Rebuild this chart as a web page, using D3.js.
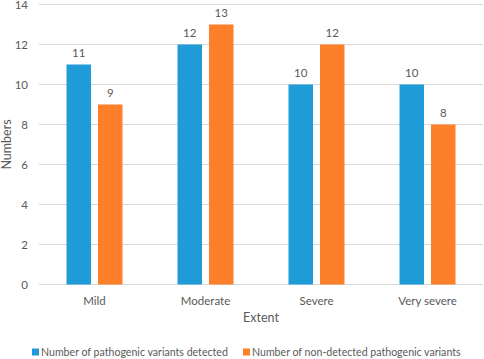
<!DOCTYPE html>
<html>
<head>
<meta charset="utf-8">
<script src="https://cdn.jsdelivr.net/npm/d3@7"></script>
<style>
  body { margin: 0; background: #fff; overflow: hidden; }
  svg { display: block; }
  text { font-family: Lato, "Liberation Sans", sans-serif; fill: #595959; }
</style>
</head>
<body>
<svg width="484" height="359"></svg>
<script>
const categories = ["Mild", "Moderate", "Severe", "Very severe"];
const seriesNames = ["Number of pathogenic variants detected", "Number of non-detected pathogenic variants"];
const detected = [11, 12, 10, 10];
const nonDetected = [9, 13, 12, 8];
const yTicks = [0, 2, 4, 6, 8, 10, 12, 14];
const colors = ["#1f9bd7", "#fe7f2a"];

const svg = d3.select("svg");
const margin = { top: 4.5, left: 39, right: 1 };
const innerWidth = 484 - margin.left - margin.right;
const innerHeight = 280;

const g = svg.append("g").attr("transform", `translate(${margin.left},${margin.top})`);

const x0 = d3.scaleBand().domain(categories).range([0, innerWidth]);
const bw = x0.bandwidth();
const x1 = d3.scaleBand().domain([0, 1]).range([bw / 2 - 28, bw / 2 + 28]).paddingInner(0.222);
const y = d3.scaleLinear().domain([0, 14]).range([innerHeight, 0]);

// grid
g.selectAll(".grid").data(yTicks).enter().append("line")
  .attr("x1", 0).attr("x2", innerWidth)
  .attr("y1", d => y(d)).attr("y2", d => y(d))
  .attr("stroke", "#d9d9d9").attr("stroke-width", 1);

// y tick labels
g.selectAll(".ytick").data(yTicks).enter().append("text")
  .attr("x", -11).attr("y", d => y(d)).attr("dy", "0.35em")
  .attr("text-anchor", "end").attr("font-size", 11.5)
  .text(d => d);

const rows = categories.map((c, i) => ({ c, vals: [detected[i], nonDetected[i]] }));

const grp = g.selectAll(".grp").data(rows).enter().append("g")
  .attr("transform", d => `translate(${x0(d.c)},0)`);

grp.selectAll("rect").data(d => d.vals).enter().append("rect")
  .attr("x", (d, i) => x1(i))
  .attr("y", d => y(d))
  .attr("width", x1.bandwidth())
  .attr("height", d => innerHeight - y(d))
  .attr("fill", (d, i) => colors[i]);

grp.selectAll(".val").data(d => d.vals).enter().append("text")
  .attr("x", (d, i) => x1(i) + x1.bandwidth() / 2)
  .attr("y", d => y(d) - 8)
  .attr("text-anchor", "middle").attr("font-size", 11.5)
  .text(d => d);

// category labels
g.selectAll(".cat").data(categories).enter().append("text")
  .attr("x", d => x0(d) + bw / 2).attr("y", innerHeight + 20)
  .attr("text-anchor", "middle").attr("font-size", 11.5)
  .text(d => d);

svg.append("text")
  .attr("x", margin.left + innerWidth / 2).attr("y", 322)
  .attr("text-anchor", "middle").attr("font-size", 12.5)
  .text("Extent");

svg.append("text")
  .attr("transform", `translate(11,${margin.top + innerHeight / 2}) rotate(-90)`)
  .attr("text-anchor", "middle").attr("font-size", 12.5)
  .text("Numbers");

// legend
const legendX = [32, 243];
const leg = svg.selectAll(".leg").data(seriesNames).enter().append("g")
  .attr("transform", (d, i) => `translate(${legendX[i]},352)`);
leg.append("rect").attr("x", 0).attr("y", -3.5).attr("width", 7).attr("height", 7)
  .attr("fill", (d, i) => colors[i]);
leg.append("text").attr("x", 9).attr("y", 0).attr("dy", "0.35em")
  .attr("font-size", 10.6).text(d => d);
</script>
</body>
</html>
